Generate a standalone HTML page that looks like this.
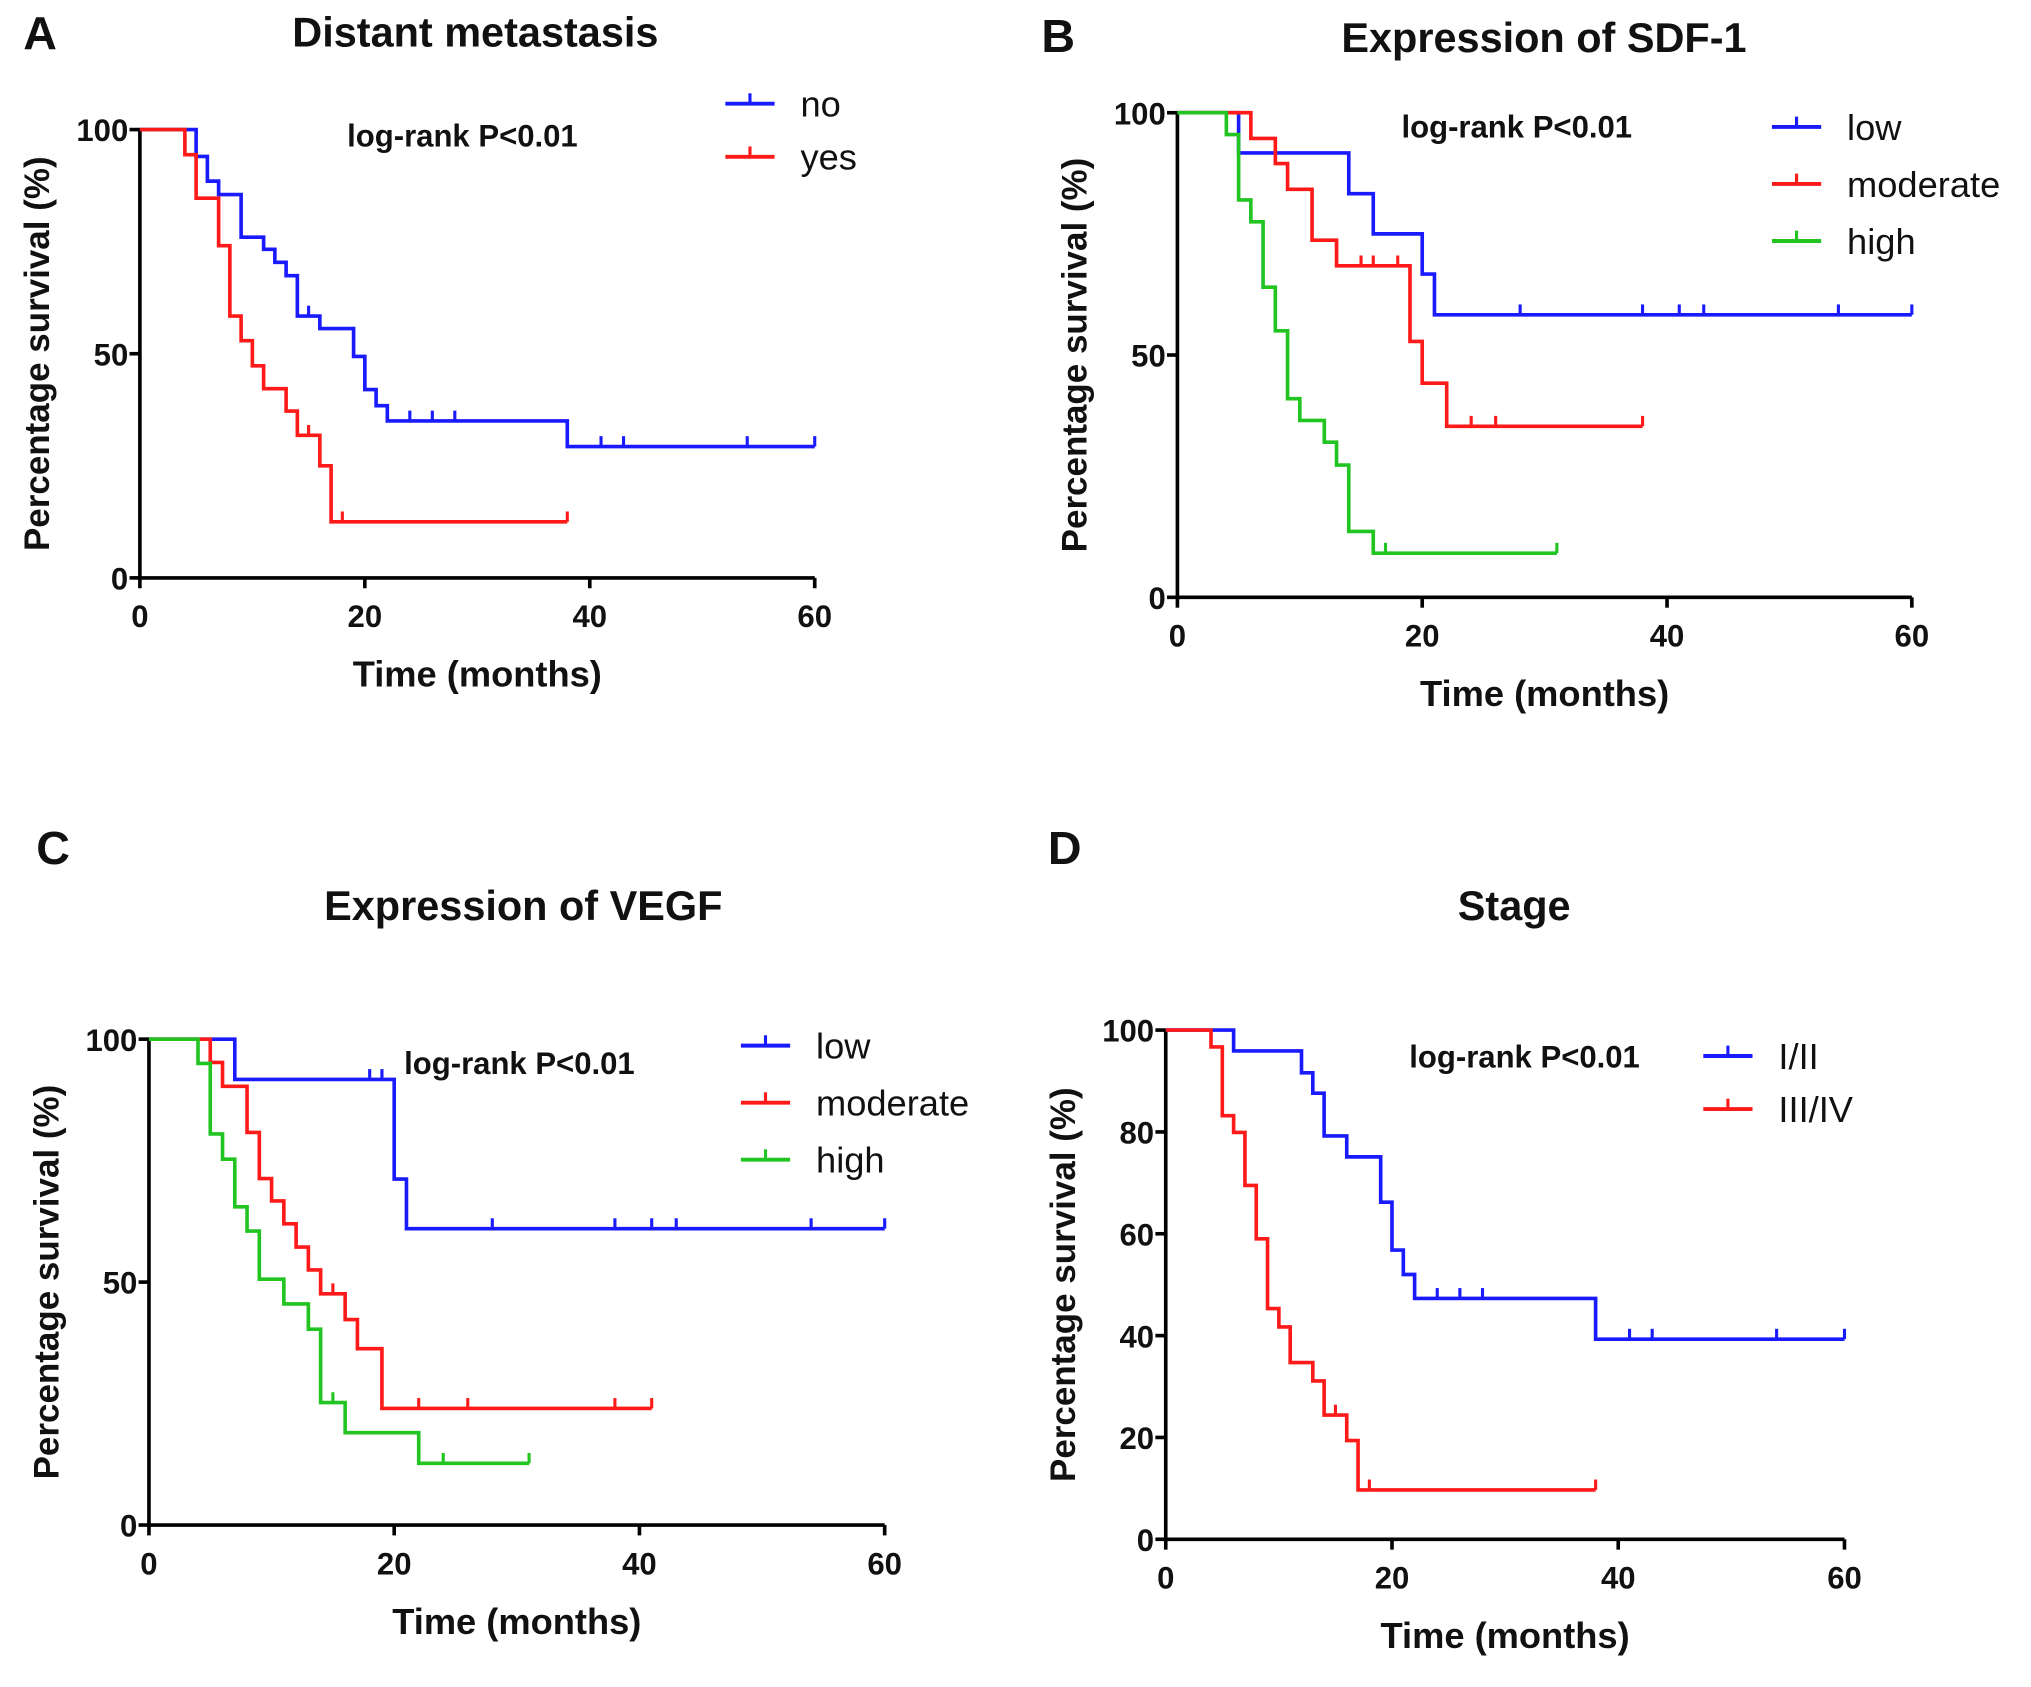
<!DOCTYPE html>
<html><head><meta charset="utf-8"><style>
html,body{margin:0;padding:0;background:#fff}
svg{display:block}
text{font-family:"Liberation Sans",Arial,sans-serif;fill:#111}
</style></head><body>
<svg id="fig" width="2031" height="1687" viewBox="0 0 1568 1302" preserveAspectRatio="none" xmlns="http://www.w3.org/2000/svg"></svg>
<script>
// ---- Data (time in months, survival %) ----
const xTicks = [0, 20, 40, 60];
const yTicksABC = [0, 50, 100];
const yTicksD = [0, 20, 40, 60, 80, 100];

const aNoTimes = [5, 6, 7, 9, 11, 12, 13, 14, 16, 19, 20, 21, 22, 38];
const aNoSurv  = [94, 88.5, 85.5, 76, 73.3, 70.4, 67.4, 58.4, 55.6, 49.4, 42, 38.4, 35, 29.3];
const aNoCens  = [15, 24, 26, 28, 41, 43, 54, 60];
const aNoEnd = 60;
const aYesTimes = [4, 5, 7, 8, 9, 10, 11, 13, 14, 16, 17];
const aYesSurv  = [94.4, 84.7, 74.1, 58.4, 52.9, 47.3, 42.2, 37.2, 31.8, 25, 12.5];
const aYesCens  = [15, 18, 38];
const aYesEnd = 38;

const bLowTimes = [5, 14, 16, 20, 21];
const bLowSurv  = [91.7, 83.3, 75, 66.7, 58.3];
const bLowCens  = [28, 38, 41, 43, 54, 60];
const bLowEnd = 60;
const bModTimes = [6, 8, 9, 11, 13, 19, 20, 22];
const bModSurv  = [94.7, 89.5, 84.2, 73.7, 68.4, 52.8, 44.2, 35.3];
const bModCens  = [15, 16, 18, 24, 26, 38];
const bModEnd = 38;
const bHighTimes = [4, 5, 6, 7, 8, 9, 10, 12, 13, 14, 16];
const bHighSurv  = [95.5, 82, 77.5, 64, 55, 41, 36.5, 32, 27.3, 13.6, 9.1];
const bHighCens  = [17, 31];
const bHighEnd = 31;

const cLowTimes = [7, 20, 21];
const cLowSurv  = [91.7, 71.2, 61];
const cLowCens  = [18, 19, 28, 38, 41, 43, 54, 60];
const cLowEnd = 60;
const cModTimes = [5, 6, 8, 9, 10, 11, 12, 13, 14, 16, 17, 19];
const cModSurv  = [95.2, 90.3, 80.8, 71.3, 66.7, 62, 57.2, 52.5, 47.6, 42.3, 36.3, 24];
const cModCens  = [15, 22, 26, 38, 41];
const cModEnd = 41;
const cHighTimes = [4, 5, 6, 7, 8, 9, 11, 13, 14, 16, 22];
const cHighSurv  = [95, 80.5, 75.3, 65.5, 60.5, 50.6, 45.5, 40.3, 25.2, 19, 12.7];
const cHighCens  = [15, 24, 31];
const cHighEnd = 31;

const dEarlyTimes = [6, 12, 13, 14, 16, 19, 20, 21, 22, 38];
const dEarlySurv  = [95.9, 91.6, 87.6, 79.2, 75.1, 66.2, 56.8, 52, 47.3, 39.3];
const dEarlyCens  = [24, 26, 28, 41, 43, 54, 60];
const dEarlyEnd = 60;
const dLateTimes = [4, 5, 6, 7, 8, 9, 10, 11, 13, 14, 16, 17];
const dLateSurv  = [96.7, 83.2, 79.9, 69.5, 59, 45.3, 41.7, 34.7, 31.1, 24.4, 19.4, 9.7];
const dLateCens  = [15, 18, 38];
const dLateEnd = 38;

const BLUE = '#1a1aff', RED = '#ff1a1a', GREEN = '#22c422';
const NS = 'http://www.w3.org/2000/svg';
const svg = document.getElementById('fig');

function el(tag, attrs, parent, txt) {
  const e = document.createElementNS(NS, tag);
  for (const k in attrs) e.setAttribute(k, attrs[k]);
  if (txt !== undefined) e.textContent = txt;
  (parent || svg).appendChild(e);
  return e;
}

function panel(cfg) {
  const g = el('g', {});
  
  
  const sx = t => cfg.x0 + (t / 60) * (cfg.x1 - cfg.x0);
  const sy = v => cfg.y0 - (v / 100) * (cfg.y0 - cfg.y1);

  const letter = el('text', {x: cfg.lx, y: cfg.ly, 'font-size': 36, 'font-weight': 'bold'}, g, cfg.letter);
  
  
  const title = el('text', {x: cfg.tx, y: cfg.ty, 'font-size': 32, 'font-weight': 'bold', 'text-anchor': 'middle'}, g, cfg.title);
  
  

  const ax = el('path', {d: `M${cfg.x0},${sy(100)-1}V${cfg.y0}H${cfg.x1}`, fill: 'none', stroke: '#000', 'stroke-width': 2.8}, g);
  
  
  xTicks.forEach(t => {
    const tk = el('line', {x1: sx(t), x2: sx(t), y1: cfg.y0, y2: cfg.y0 + 8, stroke: '#000', 'stroke-width': 2.8}, g);
    
    
    const tl = el('text', {x: sx(t), y: cfg.y0 + 38, 'font-size': 24, 'font-weight': 'bold', 'text-anchor': 'middle'}, g, String(t));
    
    
  });
  cfg.yTicks.forEach(v => {
    const tk = el('line', {x1: cfg.x0 - 8, x2: cfg.x0, y1: sy(v), y2: sy(v), stroke: '#000', 'stroke-width': 2.8}, g);
    
    
    const tl = el('text', {x: cfg.x0 - 9, y: sy(v) + 9, 'font-size': 24, 'font-weight': 'bold', 'text-anchor': 'end'}, g, String(v));
    
    
  });
  const xt = el('text', {x: (cfg.x0 + cfg.x1) / 2, y: cfg.y0 + 84, 'font-size': 28, 'font-weight': 'bold', 'text-anchor': 'middle'}, g, 'Time (months)');
  
  
  const ycx = cfg.x0 - 70, ycy = (cfg.y0 + sy(100)) / 2;
  const yt = el('text', {x: ycx, y: ycy, 'font-size': 27, 'font-weight': 'bold', 'text-anchor': 'middle', transform: `rotate(-90 ${ycx} ${ycy})`}, g, 'Percentage survival (%)');
  
  

  const lr = el('text', {x: cfg.lrx, y: cfg.lry, 'font-size': 24, 'font-weight': 'bold'}, g, 'log-rank P<0.01');
  
  

  cfg.series.forEach((s, i) => {
    let d = `M${sx(0)},${sy(100)}`;
    s.times.forEach((t, j) => {
      d += `H${sx(t)}V${sy(s.surv[j])}`;
    });
    d += `H${sx(s.end)}`;
    const p = el('path', {d, fill: 'none', stroke: s.color, 'stroke-width': 2.8}, g);
    
    
    s.cens.forEach(c => {
      let v = 100;
      s.times.forEach((t, j) => { if (t <= c) v = s.surv[j]; });
      const m = el('line', {x1: sx(c), x2: sx(c), y1: sy(v), y2: sy(v) - 8, stroke: s.color, 'stroke-width': 2.4}, g);
      
      
    });
    const ly = cfg.legY + i * cfg.legDy;
    const lg = el('g', {}, g);
    
    
    el('line', {x1: cfg.legX, x2: cfg.legX + 38, y1: ly, y2: ly, stroke: s.color, 'stroke-width': 3}, lg);
    el('line', {x1: cfg.legX + 19, x2: cfg.legX + 19, y1: ly, y2: ly - 8, stroke: s.color, 'stroke-width': 2.4}, lg);
    el('text', {x: cfg.legX + 58, y: ly + 10, 'font-size': 28}, lg, s.label);
  });
}

panel({name: 'panel-a', letter: 'A', lx: 18, ly: 38, title: 'Distant metastasis', tx: 367, ty: 36,
  x0: 108, x1: 629, y0: 446, y1: 100, yTicks: yTicksABC, lrx: 268, lry: 113, legX: 560, legY: 80, legDy: 41,
  series: [
    {key: 'no', label: 'no', color: BLUE, times: aNoTimes, surv: aNoSurv, cens: aNoCens, end: aNoEnd},
    {key: 'yes', label: 'yes', color: RED, times: aYesTimes, surv: aYesSurv, cens: aYesCens, end: aYesEnd}
  ]});
panel({name: 'panel-b', letter: 'B', lx: 804, ly: 40, title: 'Expression of SDF-1', tx: 1192, ty: 40,
  x0: 909, x1: 1476, y0: 461, y1: 87, yTicks: yTicksABC, lrx: 1082, lry: 106, legX: 1368, legY: 98, legDy: 44,
  series: [
    {key: 'low', label: 'low', color: BLUE, times: bLowTimes, surv: bLowSurv, cens: bLowCens, end: bLowEnd},
    {key: 'moderate', label: 'moderate', color: RED, times: bModTimes, surv: bModSurv, cens: bModCens, end: bModEnd},
    {key: 'high', label: 'high', color: GREEN, times: bHighTimes, surv: bHighSurv, cens: bHighCens, end: bHighEnd}
  ]});
panel({name: 'panel-c', letter: 'C', lx: 28, ly: 667, title: 'Expression of VEGF', tx: 404, ty: 710,
  x0: 115, x1: 683, y0: 1177, y1: 802, yTicks: yTicksABC, lrx: 312, lry: 829, legX: 572, legY: 807, legDy: 44,
  series: [
    {key: 'low', label: 'low', color: BLUE, times: cLowTimes, surv: cLowSurv, cens: cLowCens, end: cLowEnd},
    {key: 'moderate', label: 'moderate', color: RED, times: cModTimes, surv: cModSurv, cens: cModCens, end: cModEnd},
    {key: 'high', label: 'high', color: GREEN, times: cHighTimes, surv: cHighSurv, cens: cHighCens, end: cHighEnd}
  ]});
panel({name: 'panel-d', letter: 'D', lx: 809, ly: 667, title: 'Stage', tx: 1169, ty: 710,
  x0: 900, x1: 1424, y0: 1188, y1: 795, yTicks: yTicksD, lrx: 1088, lry: 824, legX: 1315, legY: 815, legDy: 41,
  series: [
    {key: 'stage-i-ii', label: 'I/II', color: BLUE, times: dEarlyTimes, surv: dEarlySurv, cens: dEarlyCens, end: dEarlyEnd},
    {key: 'stage-iii-iv', label: 'III/IV', color: RED, times: dLateTimes, surv: dLateSurv, cens: dLateCens, end: dLateEnd}
  ]});
</script>
</body></html>
